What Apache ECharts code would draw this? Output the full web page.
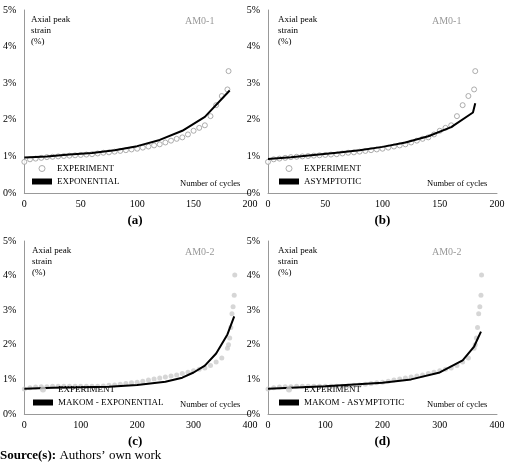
<!DOCTYPE html>
<html><head><meta charset="utf-8">
<script src="https://cdn.jsdelivr.net/npm/echarts@6/dist/echarts.min.js"></script>
<style>body{margin:0;background:#fff}#c{width:520px;height:464px}</style>
</head><body><div id="c"></div>
<script>
// AM0-1 experiment [cycle, strain %]
const exp1 = [[0,0.85],[5,0.92],[10,0.94],[15,0.96],[20,0.98],[25,0.99],[30,1.0],[35,1.01],[40,1.02],[45,1.03],[50,1.04],[55,1.05],[60,1.06],[65,1.08],[70,1.1],[75,1.11],[80,1.13],[85,1.15],[90,1.17],[95,1.19],[100,1.21],[105,1.24],[110,1.27],[115,1.3],[120,1.33],[125,1.38],[130,1.43],[135,1.48],[140,1.52],[145,1.6],[150,1.7],[155,1.78],[160,1.85],[165,2.1],[170,2.4],[175,2.65],[180,2.83],[181,3.33]];
const expo1 = [[0,0.97],[20,1.0],[40,1.05],[60,1.09],[80,1.17],[100,1.28],[120,1.45],[140,1.7],[160,2.08],[182,2.8]];
const asym1 = [[0,0.93],[20,0.98],[40,1.04],[60,1.1],[80,1.17],[100,1.26],[120,1.38],[140,1.55],[160,1.8],[179,2.2],[181,2.45]];
// AM0-2
const exp2 = [[0,0.72],[10,0.76],[20,0.78],[30,0.79],[40,0.79],[50,0.8],[60,0.8],[70,0.8],[80,0.8],[90,0.8],[100,0.8],[110,0.8],[120,0.8],[130,0.8],[140,0.81],[150,0.83],[160,0.84],[170,0.86],[180,0.88],[190,0.9],[200,0.92],[210,0.95],[220,0.98],[230,1.01],[240,1.04],[250,1.07],[260,1.1],[270,1.13],[280,1.17],[290,1.21],[300,1.25],[310,1.29],[320,1.33],[330,1.4],[340,1.5],[350,1.62],[360,1.9],[362,2.0],[364,2.2],[366,2.5],[368,2.9],[370,3.1],[372,3.43],[373,4.02]];
const makExp2 = [[0,0.73],[50,0.76],[100,0.77],[150,0.79],[200,0.84],[250,0.93],[280,1.05],[300,1.2],[320,1.4],[340,1.75],[360,2.3],[372,2.82]];
const makAsym2 = [[0,0.73],[100,0.8],[200,0.9],[250,1.0],[300,1.2],[340,1.55],[360,1.95],[372,2.38]];
const xMax = [200, 200, 400, 400];
const tags = ['AM0-1', 'AM0-1', 'AM0-2', 'AM0-2'];
const panelLabels = ['(a)', '(b)', '(c)', '(d)'];

const F = 'Liberation Serif';
const grids = [
  {left: 21, top: 10, width: 229, height: 183},
  {left: 268, top: 10, width: 229, height: 183},
  {left: 22, top: 241, width: 228, height: 173},
  {left: 268, top: 241, width: 229, height: 173}
];
const ax = {color: '#000', fontFamily: F, fontSize: 10};
const xAxis = grids.map((g, i) => ({gridIndex: i, type: 'value', min: 0, max: xMax[i], interval: xMax[i] / 4,
  axisLine: {lineStyle: {color: '#999'}}, axisTick: {show: false}, splitLine: {show: false},
  axisLabel: {...ax, margin: 6}}));
const yAxis = grids.map((g, i) => ({gridIndex: i, type: 'value', min: 0, max: 5, interval: 1,
  axisLine: {show: true, lineStyle: {color: '#999'}}, axisTick: {show: false}, splitLine: {show: false},
  axisLabel: {...ax, formatter: v => v + '%'}}));

const expHollow = {type: 'scatter', symbol: 'circle', symbolSize: 5,
  itemStyle: {color: '#fff', borderColor: '#999', borderWidth: 1}};
const expFilled = {type: 'scatter', symbol: 'circle', symbolSize: 5,
  itemStyle: {color: '#ccc'}};
const fit = {type: 'line', showSymbol: false, symbol: 'none', lineStyle: {color: '#000', width: 2}, itemStyle: {color: '#000'}, z: 3};
const series = [
  {...expHollow, name: 'EXPERIMENT', xAxisIndex: 0, yAxisIndex: 0, data: exp1},
  {...fit, name: 'EXPONENTIAL', xAxisIndex: 0, yAxisIndex: 0, data: expo1},
  {...expHollow, name: 'EXPERIMENT', xAxisIndex: 1, yAxisIndex: 1, data: exp1},
  {...fit, name: 'ASYMPTOTIC', xAxisIndex: 1, yAxisIndex: 1, data: asym1},
  {...expFilled, name: 'EXPERIMENT ', xAxisIndex: 2, yAxisIndex: 2, data: exp2},
  {...fit, name: 'MAKOM - EXPONENTIAL', xAxisIndex: 2, yAxisIndex: 2, data: makExp2},
  {...expFilled, name: 'EXPERIMENT ', xAxisIndex: 3, yAxisIndex: 3, data: exp2},
  {...fit, name: 'MAKOM - ASYMPTOTIC', xAxisIndex: 3, yAxisIndex: 3, data: makAsym2}
];
const legendNames = [['EXPERIMENT', 'EXPONENTIAL'], ['EXPERIMENT', 'ASYMPTOTIC'], ['EXPERIMENT ', 'MAKOM - EXPONENTIAL'], ['EXPERIMENT ', 'MAKOM - ASYMPTOTIC']];
const legend = grids.map((g, i) => ({orient: 'vertical', left: g.left + 6, top: g.top + g.height - 34,
  itemWidth: 20, itemHeight: 6, itemGap: 4, selectedMode: false,
  textStyle: {fontFamily: F, fontSize: 9, color: '#000'},
  data: [{name: legendNames[i][0], icon: 'circle', itemStyle: i < 2 ? {color: '#fff', borderColor: '#999', borderWidth: 1} : {color: '#ccc'}},
         {name: legendNames[i][1], icon: 'rect', itemHeight: 2, itemStyle: {color: '#000'}}]}));

const graphic = [];
grids.forEach((g, i) => {
  graphic.push({type: 'text', left: g.left + 10, top: g.top + 4,
    style: {text: 'Axial peak\nstrain\n(%)', align: 'center', fontFamily: F, fontSize: 9, lineHeight: 11, fill: '#000'}});
  graphic.push({type: 'text', left: g.left + g.width - 65, top: g.top + 6,
    style: {text: tags[i], fontFamily: F, fontSize: 10, fill: '#999'}});
  graphic.push({type: 'text', left: g.left + g.width - 70, top: g.top + g.height - 14,
    style: {text: 'Number of cycles', fontFamily: F, fontSize: 8.5, fill: '#000'}});
  graphic.push({type: 'text', left: g.left + g.width / 2 - 8, top: g.top + g.height + 21,
    style: {text: panelLabels[i], fontFamily: F, fontSize: 13, fontWeight: 'bold', fill: '#000'}});
});
graphic.push({type: 'text', left: 0, top: 449,
  style: {rich: {b: {fontWeight: 'bold', fontFamily: F, fontSize: 13}, n: {fontFamily: F, fontSize: 13}},
    text: '{b|Source(s):} {n|Authors’ own work}'}});

const chart = echarts.init(document.getElementById('c'));
chart.setOption({animation: false, grid: grids, xAxis, yAxis, series, legend, graphic});
</script></body></html>
